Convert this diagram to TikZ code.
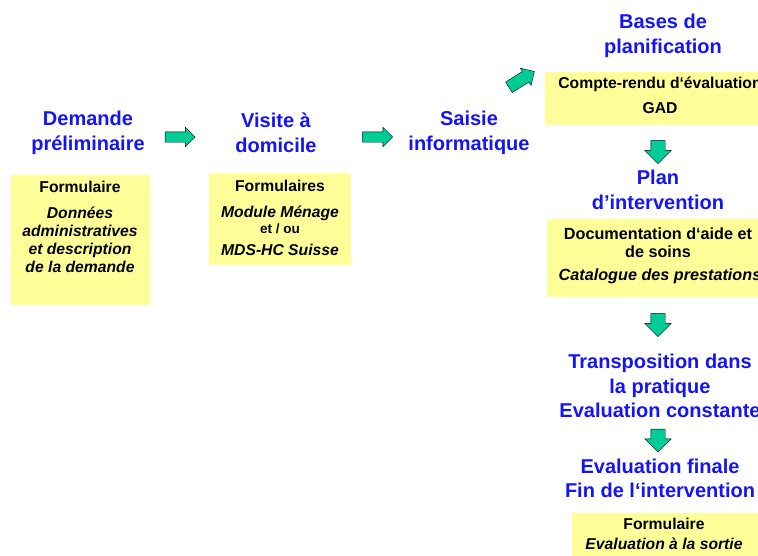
\documentclass[tikz,border=0pt]{standalone}
\usepackage{fontspec}
\setmainfont{Liberation Sans}
\usetikzlibrary{positioning,shapes.arrows}

\definecolor{titleblue}{RGB}{20,20,245}
\definecolor{boxyellow}{RGB}{255,255,153}
\definecolor{arrowgreen}{RGB}{0,204,150}

\begin{document}
\begin{tikzpicture}[x=1pt,y=-1pt,
title/.style={align=center,text=titleblue,font=\bfseries\fontsize{20}{24.5}\selectfont,inner sep=0pt},
boxed/.style={fill=boxyellow,draw=none,inner sep=0pt},
boxtxt/.style={align=center,font=\bfseries\fontsize{15.7}{18}\selectfont,inner sep=0pt},
boxit/.style={boxtxt,font=\bfseries\itshape\fontsize{15.7}{18}\selectfont},
blockarrow/.style={single arrow,draw=black,fill=arrowgreen,thin,inner xsep=0pt,
  single arrow tip angle=90,anchor=center},
rightarrow/.style={blockarrow,inner ysep=5pt,minimum height=30,minimum width=19,single arrow head extend=4.5},
downarrow/.style={blockarrow,rotate=-90,inner ysep=7pt,minimum height=23,minimum width=26,single arrow head extend=6}]

\useasboundingbox (0,0) rectangle (758,555);
\clip (0,0) rectangle (758,555);

%demande
\node[title] (t1) at (88,133) {Demande\\préliminaire};
\node[boxed,minimum width=139,minimum height=130] (b1) at (80.5,240) {};
\node[boxtxt] (f1) at (80,187) {Formulaire};
\node[boxit] (d1) at (80,240) {Données\\administratives\\et description\\de la demande};

%visite
\node[title] (t2) at (276,133) {Visite à\\domicile};
\node[boxed,minimum width=142,minimum height=92] (b2) at (280,219) {};
\node[boxtxt] (f2) at (280,186) {Formulaires};
\node[boxit] (m2) at (280,213) {Module Ménage};
\node[boxtxt,font=\bfseries\fontsize{13.5}{15}\selectfont,below=3pt of m2] (o2) {et / ou};
\node[boxit] (s2) at (280,250) {MDS-HC Suisse};

%saisie
\node[title] (t3) at (469,133) {Saisie\\informatique};

%bases
\node[title] (t4) at (663,36) {Bases de\\planification};
\node[boxed,minimum width=230,minimum height=53] (b4) at (660,98.5) {};
\node[boxtxt] (c4) at (660,84) {Compte-rendu d‘évaluation};
\node[boxtxt] (g4) at (660,108) {GAD};

%plan
\node[title] (t5) at (658,190) {Plan\\d’intervention};
\node[boxed,minimum width=222,minimum height=78] (b5) at (658,258) {};
\node[boxtxt,font=\bfseries\fontsize{16.2}{18}\selectfont] (c5) at (658,243) {Documentation d‘aide et\\de soins};
\node[boxit,font=\bfseries\itshape\fontsize{16.2}{18}\selectfont] (p5) at (660,276) {Catalogue des prestations};

%pratique
\node[title] (t6) at (660,386) {Transposition dans\\la pratique\\Evaluation constante};

%fin
\node[title] (t7) at (660,478.5) {Evaluation finale\\Fin de l‘intervention};
\node[boxed,minimum width=190,minimum height=50] (b7) at (667,538) {};
\node[boxtxt] (f7) at (664,524) {Formulaire};
\node[boxit] (e7) at (664,544) {Evaluation à la sortie};

% arrows
\node[rightarrow] (a1) at (177.5,137) {};
\node[rightarrow] (a2) at (375,137) {};
\node[rightarrow,inner ysep=6pt,minimum width=20,single arrow head extend=4,rotate=32] (a3) at (519,81) {};
\node[downarrow] (a4) at (658,148.5) {};
\node[downarrow] (a5) at (658,321.5) {};
\node[downarrow] (a6) at (658,437) {};
\end{tikzpicture}
\end{document}
